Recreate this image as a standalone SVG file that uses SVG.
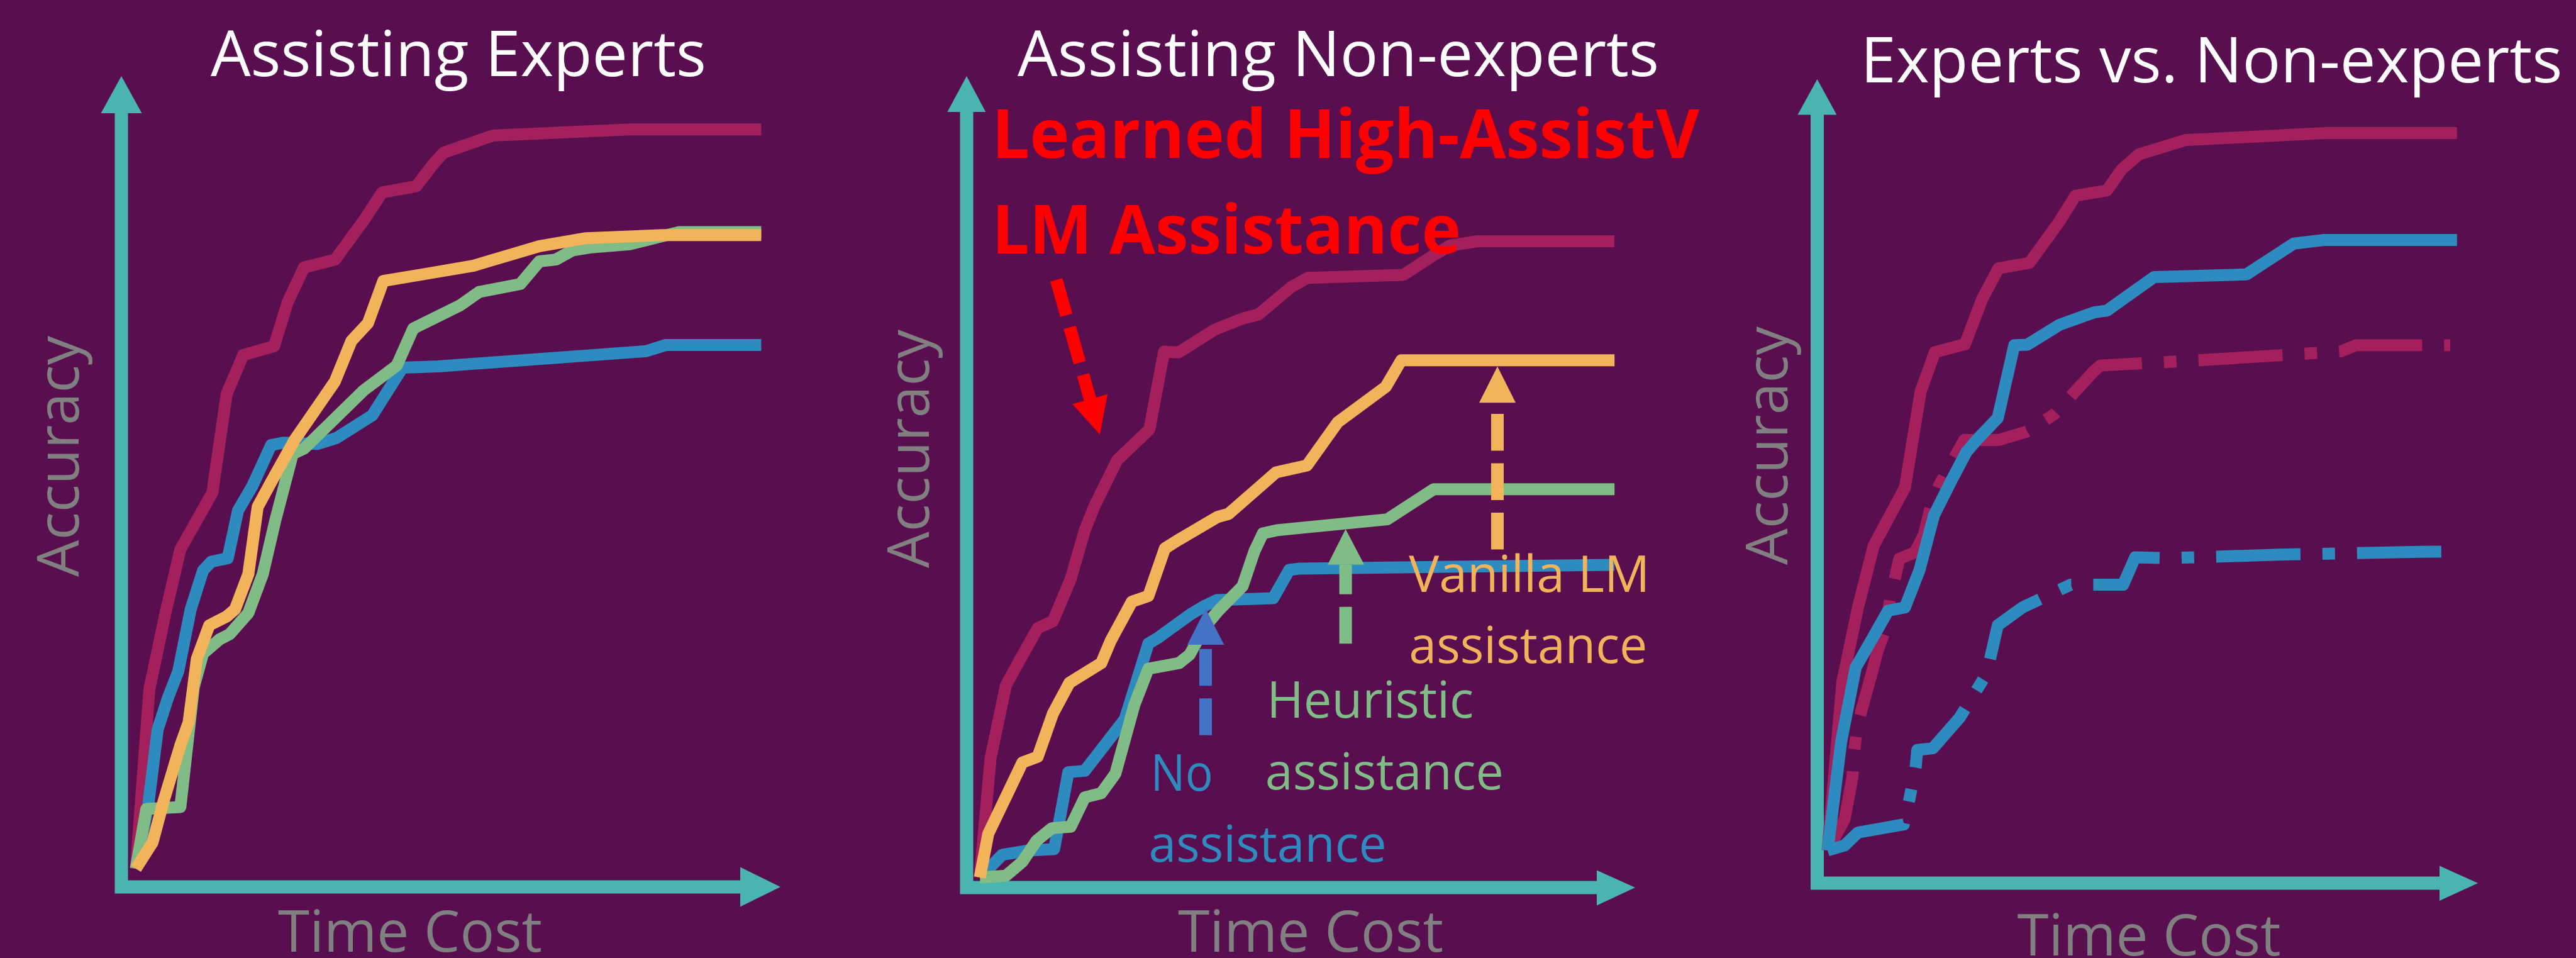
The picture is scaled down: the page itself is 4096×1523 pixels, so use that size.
<svg xmlns="http://www.w3.org/2000/svg" width="4096" height="1523" viewBox="0 0 4096 1523">
<defs>
<style>
.bg{fill:#590F4F}
.axis{fill:none;stroke:#4AB5B0;stroke-width:21;stroke-linejoin:miter}
.ahead{fill:#4AB5B0}
.ln{fill:none;stroke-width:19;stroke-linejoin:round;stroke-linecap:butt}
.cr{stroke:#A3205C}
.bl{stroke:#2E8BC0}
.gr{stroke:#80BC85}
.or{stroke:#F2B35A}
.dd{stroke-dasharray:134 35 20 35}
.title{font-family:"Open Sans","Liberation Sans",sans-serif;font-size:101px;fill:#FFFFFF}
.axl{font-family:"Open Sans","Liberation Sans",sans-serif;font-size:92px;fill:#808080}
.red{font-family:"Open Sans","Liberation Sans",sans-serif;font-size:108px;font-weight:700;fill:#FF0000}
.lbl{font-family:"Open Sans","Liberation Sans",sans-serif;font-size:80px}
.darr{fill:none;stroke-width:20;stroke-dasharray:58.5 20;stroke-linecap:butt}
</style>
</defs>
<rect class="bg" x="0" y="0" width="4096" height="1523"/>

<!-- Panel 1 -->
<g id="panel1">
  <g id="panel1-axes">
    <polyline class="axis" points="193,178 193,1410 1180,1410"/>
    <polygon class="ahead" points="160.5,180 225.5,180 193,121"/>
    <polygon class="ahead" points="1177,1378.5 1177,1441.5 1241,1410"/>
  </g>
  <g id="panel1-curves">
    <polyline class="ln cr" points="216,1381 237.6,1095.2 263.8,971.6 286.8,873.3 337.6,783.4 360.5,626.1 386.7,564.4 435.9,550.3 457.2,481 483.3,425.3 532.9,412.6 579.1,349.5 607.8,305.8 661.8,296.1 687.9,262.1 705.3,242.7 783.7,215.5 1001.4,205.8 1210.4,205.8"/>
    <polyline class="ln bl" points="216,1381 236,1277.7 250.7,1159.8 267.1,1109.2 283.5,1067.1 303.2,968.8 322.8,907 335.9,893 362.1,887.4 378.5,811.5 401.5,772.2 431,707.6 450.6,703.7 505,705.8 535.5,696.1 592.1,660.2 640,584.5 696.6,582.5 1027.5,558.3 1058,548.6 1210.4,548.6"/>
    <polyline class="ln gr" points="216,1381 232.7,1286 286.8,1283 308.1,1092.4 322.8,1039 349,1016.5 365.4,1008.1 394.9,974.4 417.9,912.6 437.5,828.4 465.4,721.6 483.4,713.2 578.4,620.5 630.9,581.2 657.1,522.2 731.5,485.5 762,464.1 827.3,451.5 857.7,415.5 883.9,412.6 910,398.1 940.5,393.2 1001.4,388.4 1079.8,368.9 1210.4,368.9"/>
    <polyline class="ln or" points="216,1381 242.5,1339.5 260.6,1272.1 286.8,1185 299.9,1148.5 313,1047.4 332.7,994.1 360.5,980 373.6,968.8 394.9,912.6 409.7,805.9 431,766.6 468.6,699.2 532.5,606.5 558.8,541.9 585,513.8 609.6,446.6 679.2,435 753.2,422.3 857.7,391.3 931.8,378.7 1053.7,373.8 1210.4,373.8"/>
  </g>
  <g id="panel1-text">
    <text class="title" x="335" y="121" textLength="788" lengthAdjust="spacingAndGlyphs">Assisting Experts</text>
    <text class="axl" transform="translate(124.5,917) rotate(-90)" textLength="383" lengthAdjust="spacingAndGlyphs">Accuracy</text>
    <text class="axl" x="442" y="1513" textLength="420" lengthAdjust="spacingAndGlyphs">Time Cost</text>
  </g>
</g>

<!-- Panel 2 -->
<g id="panel2">
  <g id="panel2-axes">
    <polyline class="axis" points="1537,176 1537,1411 2542,1411"/>
    <polygon class="ahead" points="1506.3,178 1567.3,178 1537,121"/>
    <polygon class="ahead" points="2539,1383.5 2539,1439.5 2600,1411"/>
  </g>
  <g id="panel2-curves">
    <polyline class="ln cr" points="1558,1395 1575.1,1205.4 1599.4,1089.8 1623.8,1045.3 1650,998.6 1674.3,987.5 1702.4,920.8 1724.9,842.9 1739.9,805.2 1776.3,731.6 1827.7,682.6 1850.9,559.1 1874.1,560.3 1931.2,524.3 1974.8,506.8 2000.9,500 2053.1,456.3 2079.3,441.8 2231.7,436.9 2279.5,405.8 2305.7,390.3 2349.2,383.5 2566.9,383.5"/>
    <polyline class="ln bl" points="1558,1395 1593.8,1358.8 1635,1352.1 1676.2,1349.9 1698.7,1227.6 1724.9,1225.4 1788.6,1143.1 1826,1023.1 1841,1014.2 1893.4,976.3 1915.9,963 1934.6,954.1 2024.5,951 2050,906 2066,904 2567,898"/>
    <polyline class="ln gr" points="1558,1395 1599.4,1392.2 1625.7,1369.9 1648.1,1336.6 1672.5,1316.6 1702.4,1314.3 1724.9,1267.6 1751.1,1261 1773.6,1229.8 1803.6,1120.9 1826,1063.1 1874.7,1054.2 1891.6,1040.8 1915.9,996.4 1938.4,969.7 1975.8,931.9 1994.6,876.3 2008,848 2030,843 2205.9,825.6 2279.7,777.8 2567.2,777.8"/>
    <polyline class="ln or" points="1558,1395 1571.4,1325.5 1601.3,1263.2 1625.7,1212.1 1650,1203.2 1674.3,1134.2 1700.6,1085.3 1751.1,1054.2 1766.1,1018.6 1799.8,956.4 1826,947.5 1852.2,871.9 1871,860 1935.6,822 1953.4,817 2029,751 2078.1,740 2127.3,671.1 2203.5,614.9 2228.1,572.8 2567.2,572.8"/>
  </g>
  <g id="panel2-arrows">
    <line class="darr" stroke="#F2B35A" x1="2381" y1="873.4" x2="2381" y2="640"/>
    <polygon fill="#F2B35A" points="2352,640.2 2410,640.2 2381,582.4"/>
    <line class="darr" stroke="#80BC85" x1="2139.6" y1="1023.3" x2="2139.6" y2="897.5"/>
    <polygon fill="#80BC85" points="2111.1,897.5 2169.1,897.5 2139.6,841.3"/>
    <line class="darr" stroke="#4472C4" x1="1917" y1="1168.7" x2="1917" y2="1025"/>
    <polygon fill="#4472C4" points="1887.9,1025 1946.4,1025 1917,967.7"/>
    <line class="darr" stroke="#FF0000" x1="1679.6" y1="444.8" x2="1733.2" y2="634.7"/>
    <polygon fill="#FF0000" points="1705.3,642.5 1761.1,626.8 1748.9,690.7"/>
  </g>
  <g id="panel2-text">
    <text class="title" x="1618" y="121" textLength="1020" lengthAdjust="spacingAndGlyphs">Assisting Non-experts</text>
    <text class="axl" transform="translate(1476.7,903) rotate(-90)" textLength="379" lengthAdjust="spacingAndGlyphs">Accuracy</text>
    <text class="axl" x="1873" y="1513" textLength="422" lengthAdjust="spacingAndGlyphs">Time Cost</text>
    <text class="red" x="1577" y="251" textLength="1125" lengthAdjust="spacingAndGlyphs">Learned High-AssistV</text>
    <text class="red" x="1577" y="403" textLength="746" lengthAdjust="spacingAndGlyphs">LM Assistance</text>
    <text class="lbl" fill="#F2B35A" x="2240.3" y="940.7" textLength="383" lengthAdjust="spacingAndGlyphs">Vanilla LM</text>
    <text class="lbl" fill="#F2B35A" x="2240.3" y="1054.2" textLength="379" lengthAdjust="spacingAndGlyphs">assistance</text>
    <text class="lbl" fill="#80BC85" x="2014.2" y="1141.2" textLength="329" lengthAdjust="spacingAndGlyphs">Heuristic</text>
    <text class="lbl" fill="#80BC85" x="2011.8" y="1255.3" textLength="379" lengthAdjust="spacingAndGlyphs">assistance</text>
    <text class="lbl" fill="#2E8BC0" x="1829.6" y="1256.6" textLength="99" lengthAdjust="spacingAndGlyphs">No</text>
    <text class="lbl" fill="#2E8BC0" x="1826.6" y="1370" textLength="378" lengthAdjust="spacingAndGlyphs">assistance</text>
  </g>
</g>

<!-- Panel 3 -->
<g id="panel3">
  <g id="panel3-axes">
    <polyline class="axis" points="2889.5,180 2889.5,1404 3882,1404"/>
    <polygon class="ahead" points="2858.4,182.5 2920.4,182.5 2889.5,126"/>
    <polygon class="ahead" points="3879,1376.5 3879,1432 3940,1404"/>
  </g>
  <g id="panel3-curves">
    <polyline class="ln cr" points="2906,1352 2929.4,1084.1 2954.3,965.6 2979.2,867.8 3029,775.1 3054,622 3076.5,559.9 3124.4,547.3 3151.7,475.6 3177.7,426.5 3226.9,418 3274.7,352 3300,311.3 3349.9,302.9 3373.8,269.2 3401.1,245.3 3474.3,222.8 3697.1,211.6 3906.8,211.6"/>
    <polyline class="ln cr dd" points="2906,1352 2932.9,1302.9 2945.4,1236 2948.2,1194.8 2953.2,1153.6 2977.4,1066 2985.2,1035.2 2998.7,999.1 3005.1,953.8 3020.1,888.4 3045,878.1 3059.2,849.8 3069.9,806 3084.1,770 3123.3,699.4 3178.4,699.4 3222.9,686.1 3265.6,659.3 3329.6,589.8 3340,581 3500.2,572.6 3722.3,558.5 3746.3,548.7 3896,548.7"/>
    <polyline class="ln bl dd" points="2906,1352 2932.9,1344.1 2954.3,1323.5 3027.2,1310.6 3036,1271 3046,1220 3048.6,1192.2 3073.5,1189.6 3116.1,1140.7 3158.9,1071.2 3176.6,994 3215.8,965.7 3292.3,929.6 3375.9,929.6 3395,886 3445.7,887.3 3623.6,881.8 3848.3,877.3 3896,877"/>
    <polyline class="ln bl" points="2906,1352 2927.6,1179.3 2950.7,1060.9 2977.4,1014.6 3002.3,970.8 3029,965.6 3052.1,906.4 3075.2,818.9 3103.7,762.3 3126.8,718.5 3144.6,697.9 3176.6,664.4 3202.9,548.7 3223.4,548.1 3274.7,516.4 3329.4,496.7 3349.9,493.9 3401.1,457.4 3425,440.5 3571.9,436.3 3647.2,387.2 3695,381.5 3906.8,381.5"/>
  </g>
  <g id="panel3-text">
    <text class="title" x="2958.5" y="131" textLength="1116" lengthAdjust="spacingAndGlyphs">Experts vs. Non-experts</text>
    <text class="axl" transform="translate(2842,898) rotate(-90)" textLength="379" lengthAdjust="spacingAndGlyphs">Accuracy</text>
    <text class="axl" x="3207.5" y="1519" textLength="419" lengthAdjust="spacingAndGlyphs">Time Cost</text>
  </g>
</g>
</svg>
